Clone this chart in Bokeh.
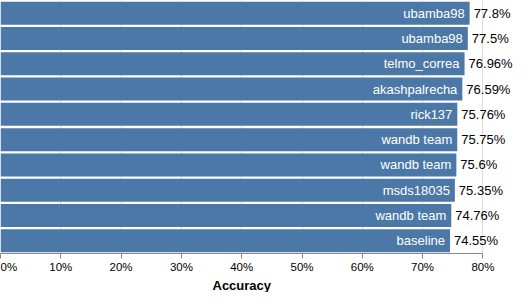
from bokeh.plotting import figure
from bokeh.models import ColumnDataSource, Range1d, FixedTicker, NumeralTickFormatter, Title
from bokeh.core.properties import value
from bokeh.embed import file_html
from bokeh.resources import INLINE

teams = ["ubamba98", "ubamba98", "telmo_correa", "akashpalrecha", "rick137",
         "wandb team", "wandb team", "msds18035", "wandb team", "baseline"]
accuracy = [0.778, 0.775, 0.7696, 0.7659, 0.7576, 0.7575, 0.756, 0.7535, 0.7476, 0.7455]
acc_labels = ["77.8%", "77.5%", "76.96%", "76.59%", "75.76%",
              "75.75%", "75.6%", "75.35%", "74.76%", "74.55%"]
x_ticks = [0, 0.1, 0.2, 0.3, 0.4, 0.5, 0.6, 0.7, 0.8]

FONT = "Liberation Sans"
W, H = 514, 292
PX_PER_UNIT = 603
src = ColumnDataSource(dict(y=list(range(len(teams))), acc=accuracy,
                            team=teams, lab=acc_labels))

p = figure(width=W, height=H, output_backend="svg", toolbar_location=None,
           x_range=Range1d(0, W / PX_PER_UNIT), y_range=Range1d(len(teams) - 0.5, -0.5),
           min_border_left=0, min_border_right=0, min_border_top=0, min_border_bottom=0)
p.outline_line_color = None
p.background_fill_color = "white"

p.hbar(y="y", left=0, right="acc", height=0.91, source=src,
       fill_color="#4c78a8", line_color=None)
p.text(x="acc", y="y", text="team", source=src, x_offset=-5,
       text_align="right", text_baseline="middle", text_color="white",
       text_font=value(FONT), text_font_size="13px")
p.text(x="acc", y="y", text="lab", source=src, x_offset=4,
       text_align="left", text_baseline="middle", text_color="black",
       text_font=value(FONT), text_font_size="13px")

p.yaxis.visible = False
p.ygrid.visible = False
p.xgrid.ticker = FixedTicker(ticks=x_ticks)
p.xgrid.grid_line_color = "#dddddd"
p.xgrid.bounds = (0, 0.8)
p.xaxis.ticker = FixedTicker(ticks=x_ticks)
p.xaxis.bounds = (0, 0.8)
p.xaxis.formatter = NumeralTickFormatter(format="0%")
p.xaxis.axis_line_color = "#888888"
p.xaxis.major_tick_line_color = "#888888"
p.xaxis.major_tick_out = 5
p.xaxis.major_tick_in = 0
p.xaxis.minor_tick_line_color = None
p.xaxis.major_label_text_font = FONT
p.xaxis.major_label_text_font_size = "11.5px"
p.xaxis.major_label_text_color = "black"
p.xaxis.major_label_standoff = 2

p.add_layout(Title(text="Accuracy", align="left", offset=212, text_font=FONT,
                   text_font_size="13px", text_font_style="bold", text_color="black",
                   standoff=0), "below")

open("out.html", "w").write(file_html(p, INLINE))
